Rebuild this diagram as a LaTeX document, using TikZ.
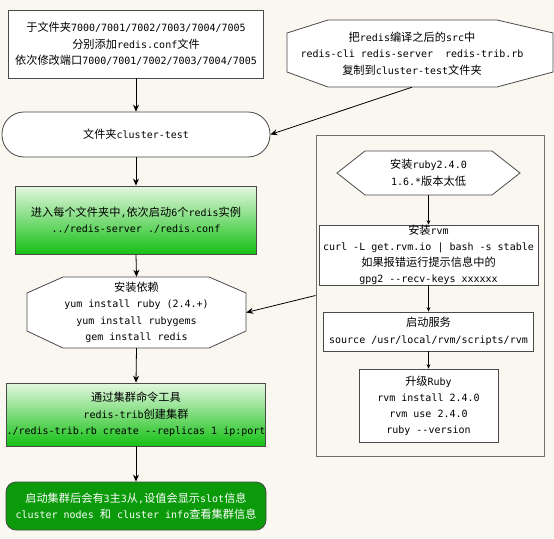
\documentclass[tikz,border=0pt]{standalone}
\usepackage{fontspec}
\setmonofont{DejaVu Sans Mono}
\newfontfamily\cjk[Scale=1.12]{Noto Sans CJK SC}
\usetikzlibrary{arrows.meta}

\definecolor{paper}{HTML}{FAF7F0}
\definecolor{edge}{HTML}{4A4A4A}
\definecolor{lightgreen}{HTML}{E4F7E0}
\definecolor{midgreen}{HTML}{14C014}
\definecolor{darkgreen}{HTML}{0A9A0A}

\begin{document}
\begin{tikzpicture}[x=1pt, y=-1pt, >={Stealth[length=7pt,width=6pt]},
  every node/.style={font=\ttfamily\fontsize{10}{16.5}\selectfont, align=center, inner sep=0pt},
  plainbox/.style={draw=edge, fill=white, line width=0.8pt},
  greenbox/.style={draw=edge, line width=0.8pt, top color=lightgreen, bottom color=midgreen},
  outline/.style={draw=edge, fill=white, line width=0.8pt},
  flow/.style={->, line width=0.8pt},
  innerflow/.style={-{Stealth[length=4.5pt,width=4pt]}, line width=0.6pt}]
  \fill[paper] (0,0) rectangle (554,538);

  % Left column
  \node[plainbox, minimum width=255pt, minimum height=68pt] (cfg) at (136,44)
    {{\cjk 于文件夹}7000/7001/7002/7003/7004/7005\\
     {\cjk 分别添加}redis.conf{\cjk 文件}\\
     {\cjk 依次修改端口}7000/7001/7002/7003/7004/7005};

  \node[plainbox, rounded corners=22pt, minimum width=268pt, minimum height=45pt] (dir) at (136,134.5)
    {{\cjk 文件夹}cluster-test};

  \node[greenbox, minimum width=241pt, minimum height=68pt] (start) at (136,220)
    {{\cjk 进入每个文件夹中},{\cjk 依次启动}6{\cjk 个}redis{\cjk 实例}\\
     ../redis-server ./redis.conf};

  \draw[outline] (27,293) -- (63,277) -- (209,277) -- (246,293) -- (246,331) -- (209,348) -- (63,348) -- (27,331) -- cycle;
  \node[minimum width=219pt, minimum height=71pt] (dep) at (136.5,312.5)
    {{\cjk 安装依赖}\\
     yum install ruby (2.4.+)\\
     yum install rubygems\\
     gem install redis};

  \node[greenbox, minimum width=259pt, minimum height=63pt] (create) at (136,414.5)
    {{\cjk 通过集群命令工具}\\
     redis-trib{\cjk 创建集群}\\
     ./redis-trib.rb create --replicas 1 ip:port};

  \node[draw=edge, fill=darkgreen, text=white, line width=0.8pt, rounded corners=10pt,
        minimum width=260pt, minimum height=48pt] (done) at (136,506)
    {{\cjk 启动集群后会有}3{\cjk 主}3{\cjk 从},{\cjk 设值会显示}slot{\cjk 信息}\\
     cluster nodes {\cjk 和} cluster info{\cjk 查看集群信息}};

  % Source files
  \draw[outline] (287,33) -- (328,20) -- (497,20) -- (553,33) -- (553,72) -- (497,87) -- (328,87) -- (287,72) -- cycle;
  \node[minimum width=250pt, minimum height=67pt] (src) at (412,53.5)
    {{\cjk 把}redis{\cjk 编译之后的}src{\cjk 中}\\
     redis-cli redis-server\ \ redis-trib.rb\\
     {\cjk 复制到}cluster-test{\cjk 文件夹}};

  % Ruby group
  \node[draw=edge!80, line width=1pt, minimum width=228pt, minimum height=321pt] (group) at (430,295.5) {};

  \draw[outline] (337,173) -- (365,151) -- (492,151) -- (520,173) -- (492,195) -- (365,195) -- cycle;
  \node[minimum width=183pt, minimum height=44pt] (ruby) at (428.5,173)
    {{\cjk 安装}ruby2.4.0\\
     1.6.*{\cjk 版本太低}};

  \node[plainbox, minimum width=219pt, minimum height=60pt, font=\ttfamily\fontsize{10}{16}\selectfont] (rvm) at (428.5,255)
    {{\cjk 安装}rvm\\
     curl -L get.rvm.io | bash -s stable\\
     {\cjk 如果报错运行提示信息中的}\\
     gpg2 --recv-keys xxxxxx};

  \node[plainbox, minimum width=210pt, minimum height=39pt] (svc) at (428.5,331.5)
    {{\cjk 启动服务}\\
     source /usr/local/rvm/scripts/rvm};

  \node[plainbox, minimum width=139pt, minimum height=73pt, font=\ttfamily\fontsize{10}{16}\selectfont] (up) at (428.5,405.5)
    {{\cjk 升级}Ruby\\
     rvm install 2.4.0\\
     rvm use 2.4.0\\
     ruby --version};

  % Connectors
  \draw[flow] (cfg.south) -- (dir.north);
  \draw[flow] (src.south) -- (dir.east);
  \draw[flow] (dir.south) -- (start.north);
  \draw[flow] (start.south) -- (dep.north);
  \draw[flow] (group.west) -- (dep.east);
  \draw[flow] (dep.south) -- (create.north);
  \draw[flow] (create.south) -- (done.north);

  \draw[innerflow] (ruby.south) -- (rvm.north);
  \draw[innerflow] (rvm.south) -- (svc.north);
  \draw[innerflow] (svc.south) -- (up.north);
\end{tikzpicture}
\end{document}
